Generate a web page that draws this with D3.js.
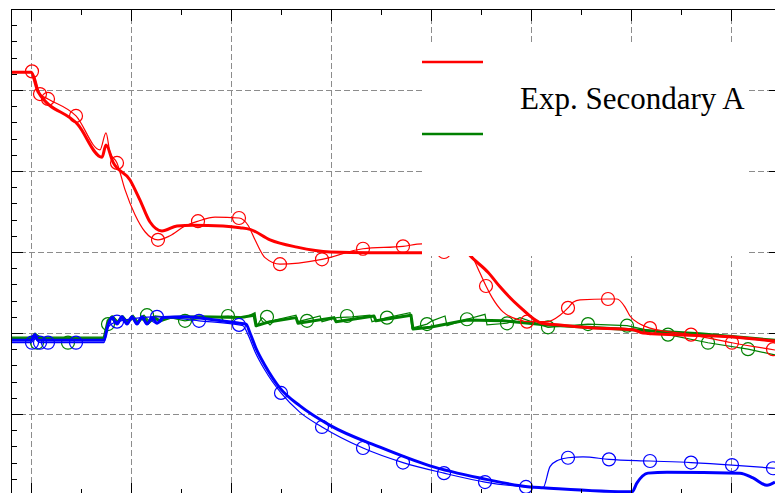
<!DOCTYPE html>
<html>
<head>
<meta charset="utf-8">
<script src="https://cdn.jsdelivr.net/npm/d3@7"></script>
<style>
    html, body { margin: 0; padding: 0; background: #fff; }
    svg { display: block; }
</style>
</head>
<body>
<div id="chart"></div>
<script>
// x ticks (major / minor) and y ticks
var xMajor = [0, 100, 200, 300, 400, 500, 600, 700];
var xMinor = [50, 150, 250, 350, 450, 550, 650, 750];
var yMajor = [0, 100, 200, 300, 400, 500, 600];
var yMinor = d3.range(0, 601, 20);

var legendLabel = 'Exp. Secondary A';

// red simulation (thick) and experiment (thin + circles)
var redSim = [[-20,522],[0,522],[7,498],[47,457],[71,417],[75,432],[82,411],[99,389],[109,364],[119,337],[131,326],[146,332],[162,333],[192,332],[209,330],[219,328],[239,315],[266,306],[299,300],[339,299],[391,299],[424,315],[441,293],[457,275],[469,257],[489,232],[511,212],[529,210],[552,207],[602,204],[612,200],[702,195],[744,190]];
var redExp = [[-20,522],[0,522],[4,515],[9,495],[17,489],[45,468],[69,426],[75,447],[79,423],[86,410],[94,377],[104,346],[114,325],[127,315],[139,320],[154,332],[167,338],[184,343],[208,342],[217,333],[224,315],[234,293],[249,285],[291,291],[332,304],[372,307],[391,310],[413,300],[427,321],[442,293],[449,274],[455,258],[461,244],[472,226],[489,216],[496,214],[516,214],[529,222],[537,231],[542,238],[549,241],[577,242],[586,242],[594,232],[599,221],[609,211],[619,206],[660,198],[701,188],[744,179]];
var redMarks = [[1,523],[9,495],[17,489],[45,468],[86,410],[127,315],[167,338],[208,342],[249,285],[291,291],[332,304],[372,307],[413,300],[455,258],[496,214],[537,231],[577,242],[619,206],[660,198],[701,188],[742,180]];

// green
var greenSim = [[-20,193],[0,193],[4,196],[9,193],[73,193],[77,215],[81,220],[86,212],[91,220],[96,212],[101,220],[106,212],[112,220],[117,212],[123,219],[129,215],[139,219],[169,220],[209,219],[223,222],[225,209],[239,214],[265,219],[267,212],[303,219],[305,214],[343,221],[345,215],[380,222],[382,205],[399,207],[436,216],[472,215],[516,210],[589,205],[669,199],[744,191]];
var greenExp = [[-20,195],[0,195],[4,200],[9,195],[73,195],[77,212],[82,221],[87,214],[92,221],[97,214],[102,222],[107,214],[113,222],[118,215],[124,221],[139,219],[154,215],[174,219],[197,221],[214,219],[224,225],[226,209],[231,219],[239,210],[244,216],[265,222],[267,214],[289,221],[291,214],[306,219],[321,220],[339,222],[341,214],[356,219],[379,225],[381,206],[396,211],[401,215],[414,221],[416,209],[436,217],[454,223],[456,210],[476,212],[489,219],[517,207],[557,211],[596,209],[637,198],[677,188],[717,180],[744,173]];
var greenMarks = [[6,188],[37,188],[77,211],[116,222],[154,215],[197,221],[236,220],[276,215],[316,221],[356,219],[396,211],[436,217],[476,212],[517,207],[557,211],[596,209],[637,198],[677,188],[717,180]];

// blue
var blueSim = [[-20,191],[0,191],[4,198],[7,191],[73,191],[77,210],[81,219],[86,211],[91,220],[96,211],[101,220],[106,211],[111,220],[116,211],[121,219],[126,212],[132,219],[154,220],[184,216],[209,212],[215,211],[219,200],[225,181],[234,160],[249,132],[269,110],[299,86],[349,59],[399,36],[449,21],[499,10],[512,9],[601,4],[606,15],[617,27],[636,28],[709,27],[722,21],[736,12],[744,16]];
var blueExp = [[-20,188],[0,188],[4,193],[9,188],[73,188],[77,207],[86,214],[126,220],[168,215],[208,210],[212,209],[217,198],[224,177],[234,154],[250,126],[269,102],[291,84],[332,58],[372,40],[413,27],[454,16],[495,10],[512,9],[519,35],[527,43],[537,46],[552,47],[578,44],[619,42],[660,40],[701,37],[744,33]];
var blueMarks = [[1,188],[9,188],[17,188],[45,188],[86,214],[126,220],[168,215],[208,210],[250,126],[291,84],[332,58],[372,40],[413,27],[454,16],[495,10],[537,46],[578,44],[619,42],[660,40],[701,37],[742,33]];

var width = 775, height = 493;
var plot = {left: 11, top: 9, right: 781, bottom: 495};

var x = d3.scaleLinear().domain([-20, 750]).range([plot.left, plot.right]);
var y = d3.scaleLinear().domain([0, 600]).range([plot.bottom, plot.top]);

var svg = d3.select('#chart').append('svg').attr('width', width).attr('height', height);

svg.append('defs').append('clipPath').attr('id', 'clip')
    .append('rect')
    .attr('x', plot.left).attr('y', plot.top)
    .attr('width', plot.right - plot.left).attr('height', plot.bottom - plot.top);

// dashed grid
var grid = svg.append('g').attr('stroke', '#8c8c8c').attr('stroke-width', 1).attr('stroke-dasharray', '6,3');
grid.selectAll('.gx').data(xMajor).enter().append('line')
    .attr('x1', function (d) { return Math.round(x(d)) + 0.5; })
    .attr('x2', function (d) { return Math.round(x(d)) + 0.5; })
    .attr('y1', plot.top).attr('y2', plot.bottom);
grid.selectAll('.gy').data(yMajor.slice(1, -1)).enter().append('line')
    .attr('y1', function (d) { return Math.round(y(d)) + 0.5; })
    .attr('y2', function (d) { return Math.round(y(d)) + 0.5; })
    .attr('x1', plot.left).attr('x2', plot.right);

var g = svg.append('g').attr('clip-path', 'url(#clip)');

function drawSeries(sim, exp, marks, color, curve) {
    var line = d3.line()
        .x(function (d) { return x(d[0]); })
        .y(function (d) { return y(d[1]); })
        .curve(curve);
    g.append('path').datum(exp)
        .attr('fill', 'none').attr('stroke', color).attr('stroke-width', 1.2)
        .attr('d', line);
    g.append('path').datum(sim)
        .attr('fill', 'none').attr('stroke', color).attr('stroke-width', 3)
        .attr('stroke-linejoin', 'round')
        .attr('d', line);
    g.selectAll(null).data(marks).enter().append('circle')
        .attr('cx', function (d) { return x(d[0]); })
        .attr('cy', function (d) { return y(d[1]); })
        .attr('r', 6.5)
        .attr('fill', 'none').attr('stroke', color).attr('stroke-width', 1.2);
}

drawSeries(greenSim, greenExp, greenMarks, '#008000', d3.curveLinear);
drawSeries(blueSim, blueExp, blueMarks, '#0000ff', d3.curveMonotoneX);
drawSeries(redSim, redExp, redMarks, '#ff0000', d3.curveMonotoneX);

// legend box (white, no border)
var leg = svg.append('g');
leg.append('rect').attr('x', 422).attr('y', 44).attr('width', 324).attr('height', 212).attr('fill', '#fff');
leg.append('line').attr('x1', 422).attr('x2', 483).attr('y1', 62).attr('y2', 62)
    .attr('stroke', '#ff0000').attr('stroke-width', 2.5);
leg.append('line').attr('x1', 422).attr('x2', 483).attr('y1', 134).attr('y2', 134)
    .attr('stroke', '#008000').attr('stroke-width', 2.5);
leg.append('text').attr('x', 520).attr('y', 109)
    .attr('font-family', 'Liberation Serif, serif').attr('font-size', 31)
    .attr('fill', '#000')
    .text(legendLabel);

// axes with inward ticks on all four sides
var axes = svg.append('g').attr('stroke', '#000').attr('stroke-width', 1);
axes.append('line').attr('x1', plot.left + 0.5).attr('x2', plot.left + 0.5).attr('y1', plot.top).attr('y2', plot.bottom);
axes.append('line').attr('x1', plot.right - 0.5).attr('x2', plot.right - 0.5).attr('y1', plot.top).attr('y2', plot.bottom);
axes.append('line').attr('x1', plot.left).attr('x2', plot.right).attr('y1', plot.top + 0.5).attr('y2', plot.top + 0.5);
axes.append('line').attr('x1', plot.left).attr('x2', plot.right).attr('y1', plot.bottom - 0.5).attr('y2', plot.bottom - 0.5);

function xTicks(vals, len) {
    vals.forEach(function (v) {
        var px = Math.round(x(v)) + 0.5;
        axes.append('line').attr('x1', px).attr('x2', px).attr('y1', plot.top).attr('y2', plot.top + len);
        axes.append('line').attr('x1', px).attr('x2', px).attr('y1', plot.bottom).attr('y2', plot.bottom - len);
    });
}
function yTicks(vals, len) {
    vals.forEach(function (v) {
        var py = Math.round(y(v)) + 0.5;
        axes.append('line').attr('y1', py).attr('y2', py).attr('x1', plot.left).attr('x2', plot.left + len);
        axes.append('line').attr('y1', py).attr('y2', py).attr('x1', plot.right).attr('x2', plot.right - len);
    });
}
xTicks(xMajor, 12);
xTicks(xMinor, 6);
yTicks(yMinor.filter(function (v) { return v % 100 !== 0; }), 6);
yTicks(yMajor, 12);
</script>
</body>
</html>
